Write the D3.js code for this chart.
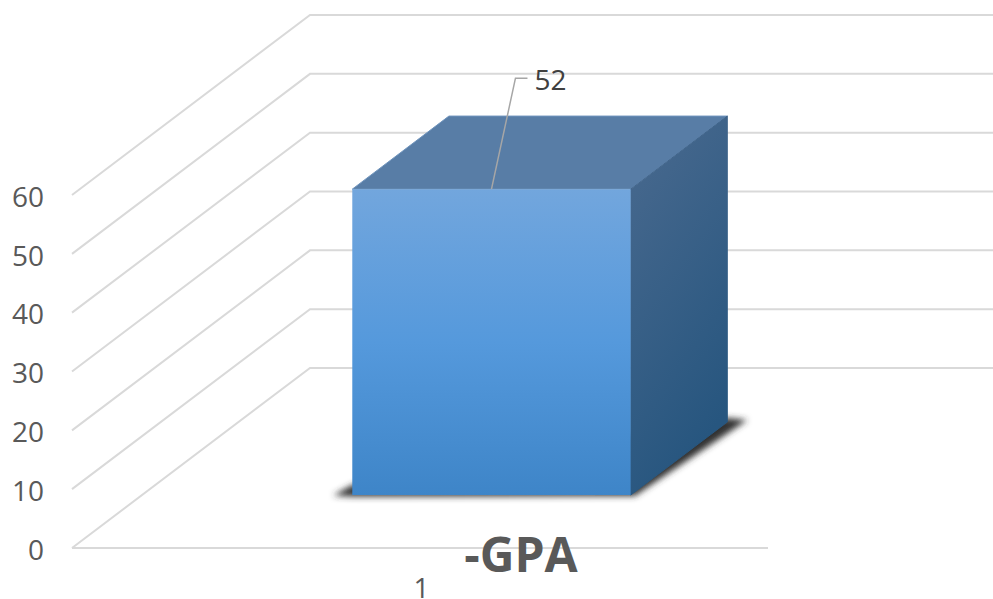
<!DOCTYPE html>
<html>
<head>
<meta charset="utf-8">
<script src="https://cdn.jsdelivr.net/npm/d3@7"></script>
<style>
  html, body { margin: 0; padding: 0; background: #fff; overflow: hidden; }
  text { font-family: "Open Sans", sans-serif; }
</style>
</head>
<body>
<div id="container"></div>
<script>
// 3D column chart, one category

//### DATA ###
const categories = [ '1' ];
const values = [ 52 ];
const yTicks = [ 0, 10, 20, 30, 40, 50, 60 ];
const chartTitle = '-GPA';

//### LAYOUT ###
const width = 993;
const height = 599;
const frontLeft = 72;
const frontRight = 768;
const backRight = 1000;
const depthX = 238; //--- shift of the back wall
const depthY = -180;
const barDepthFront = 0.294; //--- bar sits between these depths
const barDepthBack = 0.70;
const labelSize = '28px';

const svg = d3.select( '#container' )
  .append( 'svg' )
  .attr( 'width', width )
  .attr( 'height', height )
  .style( 'display', 'block' );

const y = d3.scaleLinear().domain( [ 0, 60 ] ).range( [ 548, 195 ] );
const x = d3.scaleBand().domain( categories ).range( [ frontLeft + 1.5, frontRight + 1.5 ] ).padding( 0.4286 );

// project a point (plane x, value, depth 0..1) to the screen
const project = ( px, v, d ) => [ px + depthX * d, y( v ) + depthY * d ];
const pointsOf = pts => pts.map( p => p.join( ',' ) ).join( ' ' );

//### DEFS ###
const defs = svg.append( 'defs' );

const frontGrad = defs.append( 'linearGradient' )
  .attr( 'id', 'frontGrad' )
  .attr( 'x1', 0 ).attr( 'y1', 0 ).attr( 'x2', 0 ).attr( 'y2', 1 );
frontGrad.append( 'stop' ).attr( 'offset', '0%' ).attr( 'stop-color', '#72a6dd' );
frontGrad.append( 'stop' ).attr( 'offset', '50%' ).attr( 'stop-color', '#5599dc' );
frontGrad.append( 'stop' ).attr( 'offset', '100%' ).attr( 'stop-color', '#3e85c8' );

const sideGrad = defs.append( 'linearGradient' )
  .attr( 'id', 'sideGrad' )
  .attr( 'x1', 0 ).attr( 'y1', 0 ).attr( 'x2', 0.35 ).attr( 'y2', 1 );
sideGrad.append( 'stop' ).attr( 'offset', '0%' ).attr( 'stop-color', '#4a6a8f' );
sideGrad.append( 'stop' ).attr( 'offset', '100%' ).attr( 'stop-color', '#27567f' );

defs.append( 'filter' )
  .attr( 'id', 'shadowBlur' )
  .attr( 'x', '-10%' ).attr( 'y', '-10%' ).attr( 'width', '120%' ).attr( 'height', '120%' )
  .append( 'feGaussianBlur' )
  .attr( 'stdDeviation', 3 );

//### GRIDLINES ###
const grid = svg.append( 'g' )
  .attr( 'fill', 'none' )
  .attr( 'stroke', '#d9d9d9' )
  .attr( 'stroke-width', 2 );

grid.selectAll( 'polyline' )
  .data( yTicks )
  .enter()
  .append( 'polyline' )
  .attr( 'points', d => pointsOf( [
    project( frontLeft, d, 0 ),
    project( frontLeft, d, 1 ),
    [ backRight, y( d ) + depthY ]
  ] ) );

//>>> floor front edge
grid.append( 'line' )
  .attr( 'x1', frontLeft ).attr( 'x2', frontRight )
  .attr( 'y1', y( 0 ) ).attr( 'y2', y( 0 ) );

//### BAR ###
const bars = svg.selectAll( '.bar' )
  .data( categories.map( ( c, i ) => ( { category: c, value: values[ i ] } ) ) )
  .enter()
  .append( 'g' )
  .attr( 'class', 'bar' );

const bx0 = d => x( d.category );
const bx1 = d => x( d.category ) + x.bandwidth();

//>>> floor shadow
bars.append( 'polygon' )
  .attr( 'fill', '#333333' )
  .attr( 'filter', 'url(#shadowBlur)' )
  .attr( 'points', d => {
    const a = project( bx0( d ), 0, barDepthFront );
    const b = project( bx1( d ), 0, barDepthFront );
    const c = project( bx1( d ), 0, barDepthBack );
    return pointsOf( [
      [ a[ 0 ] - 19, a[ 1 ] + 0.5 ],
      [ a[ 0 ], a[ 1 ] - 10 ],
      [ c[ 0 ], c[ 1 ] - 4 ],
      [ c[ 0 ] + 20, c[ 1 ] - 2 ],
      [ b[ 0 ] + 4, b[ 1 ] + 1 ],
      [ a[ 0 ], a[ 1 ] + 1.5 ]
    ] );
  } );

//>>> top face
bars.append( 'polygon' )
  .attr( 'fill', '#587da6' )
  .attr( 'stroke', '#6f94bd' )
  .attr( 'stroke-width', 1 )
  .attr( 'points', d => pointsOf( [
    project( bx0( d ), d.value, barDepthFront ),
    project( bx1( d ), d.value, barDepthFront ),
    project( bx1( d ), d.value, barDepthBack ),
    project( bx0( d ), d.value, barDepthBack )
  ] ) );

//>>> side face
bars.append( 'polygon' )
  .attr( 'fill', 'url(#sideGrad)' )
  .attr( 'stroke', 'url(#sideGrad)' )
  .attr( 'stroke-width', 1 )
  .attr( 'points', d => pointsOf( [
    project( bx1( d ), d.value, barDepthFront ),
    project( bx1( d ), d.value, barDepthBack ),
    project( bx1( d ), 0, barDepthBack ),
    project( bx1( d ), 0, barDepthFront )
  ] ) );

//>>> front face
bars.append( 'polygon' )
  .attr( 'fill', 'url(#frontGrad)' )
  .attr( 'points', d => pointsOf( [
    project( bx0( d ), d.value, barDepthFront ),
    project( bx1( d ), d.value, barDepthFront ),
    project( bx1( d ), 0, barDepthFront ),
    project( bx0( d ), 0, barDepthFront )
  ] ) );

//>>> data label with leader line
bars.append( 'polyline' )
  .attr( 'fill', 'none' )
  .attr( 'stroke', '#a6a6a6' )
  .attr( 'stroke-width', 1.5 )
  .attr( 'points', d => {
    const top = project( ( bx0( d ) + bx1( d ) ) / 2, d.value, barDepthFront );
    return pointsOf( [ top, [ top[ 0 ] + 24, top[ 1 ] - 111 ], [ top[ 0 ] + 36, top[ 1 ] - 111 ] ] );
  } );

bars.append( 'text' )
  .text( d => d.value )
  .attr( 'x', d => project( ( bx0( d ) + bx1( d ) ) / 2, d.value, barDepthFront )[ 0 ] + 43 )
  .attr( 'y', d => project( 0, d.value, barDepthFront )[ 1 ] - 99 )
  .attr( 'fill', '#404040' )
  .style( 'font-size', labelSize );

//### AXES ###
const yAxis = svg.append( 'g' )
  .attr( 'transform', `translate(${frontLeft},0)` )
  .call( d3.axisLeft( y ).tickValues( yTicks ).tickSize( 0 ).tickPadding( 28 ) );

const xAxis = svg.append( 'g' )
  .attr( 'transform', `translate(0,${y( 0 )})` )
  .call( d3.axisBottom( x ).tickSize( 0 ).tickPadding( 30 ) );

yAxis.select( '.domain' ).remove();
xAxis.select( '.domain' ).remove();
yAxis.selectAll( '.tick text' ).attr( 'dy', '0.4em' );
svg.selectAll( '.tick text' )
  .attr( 'fill', '#595959' )
  .style( 'font-family', '"Open Sans", sans-serif' )
  .style( 'font-size', labelSize );

//### TITLE ###
svg.append( 'text' )
  .text( chartTitle )
  .attr( 'x', 521 )
  .attr( 'y', 572 )
  .attr( 'text-anchor', 'middle' )
  .attr( 'fill', '#595959' )
  .style( 'font-size', '48px' )
  .style( 'font-weight', '700' );
</script>
</body>
</html>
